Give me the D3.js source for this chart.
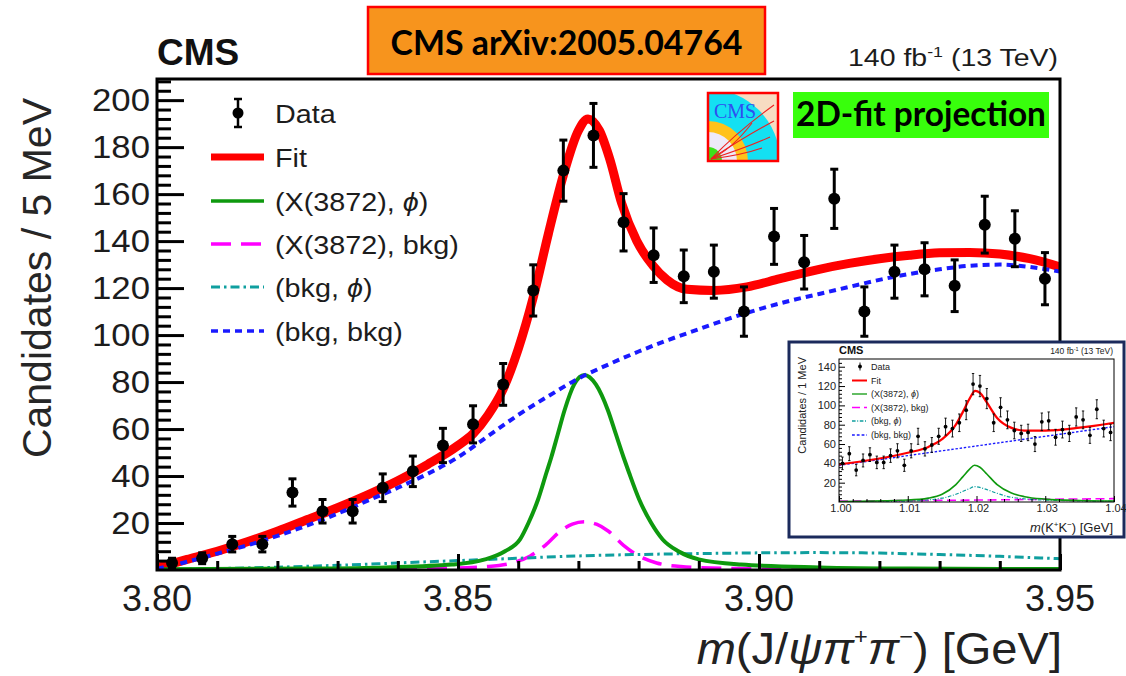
<!DOCTYPE html>
<html>
<head>
<meta charset="utf-8">
<script src="https://cdn.jsdelivr.net/npm/d3@7"></script>
<style>
  html, body { margin: 0; padding: 0; background: #ffffff; }
  svg { display: block; }
</style>
</head>
<body>
<svg id="chart" width="1126" height="676"></svg>
<script>
// ---------------- m(J/psi pi+ pi-) projection, 5 MeV bins ----------------
const massCenters = [3.8025, 3.8075, 3.8125, 3.8175, 3.8225, 3.8275, 3.8325, 3.8375, 3.8425, 3.8475,
                     3.8525, 3.8575, 3.8625, 3.8675, 3.8725, 3.8775, 3.8825, 3.8875, 3.8925, 3.8975,
                     3.9025, 3.9075, 3.9125, 3.9175, 3.9225, 3.9275, 3.9325, 3.9375, 3.9425, 3.9475];
const massCounts  = [3, 5, 11, 11, 33, 25, 25, 35, 42, 53,
                     62, 79, 119, 170, 185, 148, 134, 125, 127, 110,
                     142, 131, 158, 110, 127, 128, 121, 147, 141, 124];
const massErrors  = [2.0, 2.3, 3.3, 3.3, 5.8, 5.0, 5.0, 5.9, 6.5, 7.3,
                     7.9, 8.9, 10.9, 13.0, 13.6, 12.2, 11.6, 11.2, 11.3, 10.5,
                     11.9, 11.4, 12.6, 10.5, 11.3, 11.3, 11.0, 12.1, 11.9, 11.1];

// total fit
const fitMass  = [3.800, 3.805, 3.810, 3.815, 3.820, 3.825, 3.830, 3.835, 3.840, 3.845, 3.850, 3.8525, 3.855, 3.8575,
                  3.860, 3.8625, 3.865, 3.8675, 3.870, 3.8716, 3.8735, 3.8752, 3.8772, 3.8797, 3.8824, 3.8847, 3.888,
                  3.8925, 3.898, 3.9035, 3.910, 3.915, 3.920, 3.925, 3.930, 3.935, 3.940, 3.945, 3.950];
const fitTotal = [1, 4.5, 8, 12, 16.5, 21.5, 26.5, 32, 38, 45, 53, 58, 66, 77,
                  94, 116, 143, 168, 187, 192, 187, 175, 156, 140, 129.5, 123.5, 119.5,
                  119, 120.5, 124, 128, 130.5, 132.5, 134, 135, 135.2, 134.5, 132.5, 129];
// (X(3872), phi)
const sigPhiMass = [3.800, 3.826, 3.838, 3.849, 3.8545, 3.8578, 3.8603, 3.8617, 3.8633, 3.8647, 3.8655, 3.8666,
                    3.8677, 3.8693, 3.871, 3.8729, 3.8749, 3.8762, 3.8775, 3.8784, 3.8801, 3.8821, 3.884,
                    3.8866, 3.890, 3.897, 3.910, 3.925, 3.950];
const sigPhiVals = [0.3, 0.6, 1.1, 2.3, 4.5, 8, 13, 20, 30, 41.5, 48, 58,
                    68, 79, 83, 79, 68, 58, 48, 41.5, 30, 20, 13,
                    8, 4.5, 2.3, 1.1, 0.6, 0.4];
// (X(3872), bkg)
const sigBkgMass = [3.800, 3.831, 3.846, 3.855, 3.859, 3.862, 3.8645, 3.867, 3.869, 3.871, 3.873, 3.875,
                    3.8775, 3.880, 3.883, 3.887, 3.896, 3.911, 3.950];
const sigBkgVals = [0.1, 0.3, 0.6, 1.5, 3, 6, 10.5, 16.5, 19.5, 20.5, 19.5, 16.5,
                    10.5, 6, 3, 1.5, 0.6, 0.3, 0.1];
// (bkg, phi)
const bkgPhiMass = [3.800, 3.810, 3.820, 3.830, 3.840, 3.850, 3.860, 3.870, 3.880, 3.890, 3.900, 3.910, 3.920, 3.930, 3.940, 3.950];
const bkgPhiVals = [0.2, 0.6, 1.2, 2, 3, 4, 5, 6, 6.6, 7, 7.3, 7.4, 7.2, 6.6, 5.8, 4.8];
// (bkg, bkg)
const bkgBkgMass = [3.800, 3.805, 3.810, 3.815, 3.820, 3.825, 3.830, 3.835, 3.840, 3.845, 3.850, 3.855, 3.860, 3.865,
                    3.870, 3.875, 3.880, 3.885, 3.890, 3.895, 3.900, 3.905, 3.910, 3.915, 3.920, 3.925, 3.930, 3.935,
                    3.940, 3.945, 3.950];
const bkgBkgVals = [0.5, 3.5, 7, 10.5, 14.5, 19, 24, 29.5, 35, 41, 48, 57, 66, 74,
                    81.5, 87.5, 93, 98, 102.5, 107, 111, 114.5, 117.5, 120.5, 123.5, 126, 128, 129.5,
                    130, 129, 127];

const massTickLabels  = [3.80, 3.85, 3.90, 3.95];
const countTickLabels = [20, 40, 60, 80, 100, 120, 140, 160, 180, 200];

// ---------------- m(K+K-) projection, 1 MeV bins (inset) ----------------
const kkCenters = [1.0005, 1.0015, 1.0025, 1.0035, 1.0045, 1.0055, 1.0065, 1.0075, 1.0085, 1.0095,
                   1.0105, 1.0115, 1.0125, 1.0135, 1.0145, 1.0155, 1.0165, 1.0175, 1.0185, 1.0195,
                   1.0205, 1.0215, 1.0225, 1.0235, 1.0245, 1.0255, 1.0265, 1.0275, 1.0285, 1.0295,
                   1.0305, 1.0315, 1.0325, 1.0335, 1.0345, 1.0355, 1.0365, 1.0375, 1.0385, 1.0395];
const kkCounts  = [40, 50, 33, 43, 49, 41, 41, 48, 53, 38,
                   53, 68, 55, 59, 68, 78, 76, 82, 95, 122,
                   120, 107, 82, 98, 85, 74, 71, 72, 60, 83,
                   84, 67, 75, 71, 88, 85, 69, 96, 76, 72];
const kkErrors  = [6.5, 7.2, 5.9, 6.7, 7.1, 6.5, 6.5, 7.0, 7.3, 6.3,
                   7.3, 8.3, 7.4, 7.7, 8.3, 8.8, 8.7, 9.1, 9.8, 11.0,
                   11.0, 10.4, 9.1, 9.9, 9.2, 8.6, 8.4, 8.5, 7.8, 9.1,
                   9.2, 8.2, 8.7, 8.4, 9.4, 9.2, 8.3, 9.8, 8.7, 8.5];
const kkFitMass  = [1.000, 1.005, 1.010, 1.013, 1.015, 1.017, 1.018, 1.019, 1.0198, 1.0205, 1.0215, 1.023, 1.025, 1.027, 1.030, 1.035, 1.040];
const kkFitVals  = [39, 44, 51, 57, 65, 80, 93, 107, 115, 113, 103, 87, 77, 74, 74, 77, 82];
const kkSigPhiMass = [1.000, 1.010, 1.013, 1.015, 1.017, 1.018, 1.019, 1.0197, 1.0205, 1.0215, 1.023, 1.025, 1.027, 1.030, 1.035, 1.040];
const kkSigPhiVals = [0.5, 2, 4, 8, 18, 26, 34, 38, 36, 29, 18, 9.5, 5.5, 3, 1.5, 1];
const kkSigBkgMass = [1.000, 1.010, 1.020, 1.030, 1.040];
const kkSigBkgVals = [1, 1.5, 2, 2.8, 3.5];
const kkBkgPhiMass = [1.000, 1.010, 1.015, 1.017, 1.019, 1.0197, 1.021, 1.023, 1.025, 1.030, 1.040];
const kkBkgPhiVals = [0.3, 1, 4, 8, 14, 16, 14, 9, 5, 2, 0.8];
const kkBkgBkgMass = [1.000, 1.010, 1.020, 1.030, 1.040];
const kkBkgBkgVals = [38, 48, 58, 68, 78];
const kkTickLabels    = [1.00, 1.01, 1.02, 1.03, 1.04];
const kkCountLabels   = [20, 40, 60, 80, 100, 120, 140];

// ---------------- legend ----------------
const legendLabels = ["Data", "Fit", "(X(3872), \u03D5)", "(X(3872), bkg)", "(bkg, \u03D5)", "(bkg, bkg)"];

// ---------------- styles ----------------
const HELV = "'Liberation Sans', Arial, Helvetica, sans-serif";
const CAL  = "Lato, 'Open Sans', sans-serif";
const TXT  = "#1c1c1c";
const styles = {
  fit:    { color: "#ff0000", width: 9,   dash: null },
  sigPhi: { color: "#0e990e", width: 4,   dash: null },
  sigBkg: { color: "#ff00ff", width: 3.5, dash: "20,10" },
  bkgPhi: { color: "#0f9f9f", width: 3,   dash: "9,4,2.5,4" },
  bkgBkg: { color: "#1a1aff", width: 4,   dash: "7,5" }
};

const svg = d3.select("#chart");
const defs = svg.append("defs");

// ---------------- scales ----------------
const x = d3.scaleLinear().domain([3.80, 3.95]).range([157, 1060]);
const y = d3.scaleLinear().domain([0, 209]).range([570, 79]);

function stretchedText(parent, xp, yp, str, size, opts = {}) {
  const t = parent.append("text")
    .attr("transform", `translate(${xp},${yp}) scale(${opts.sx || 1},1)`)
    .attr("font-family", opts.family || HELV)
    .attr("font-size", size)
    .attr("font-weight", opts.weight || "normal")
    .attr("text-anchor", opts.anchor || "start")
    .attr("fill", opts.fill || TXT);
  if (str !== null) t.text(str);
  return t;
}

// ---------------- header ----------------
const titleBox = svg.append("g");
titleBox.append("rect").attr("x", 368).attr("y", 7).attr("width", 397).attr("height", 67)
  .attr("fill", "#f7941d").attr("stroke", "#ff0000").attr("stroke-width", 2.5);
const titleText = titleBox.append("text").attr("x", 566.5).attr("y", 55)
  .attr("text-anchor", "middle").attr("font-family", CAL).attr("font-weight", 700)
  .attr("font-size", 30).attr("fill", "#000").text("CMS arXiv:2005.04764");
{
  const w = titleText.node().getComputedTextLength();
  titleText.attr("font-size", 30 * 352 / w);
}

stretchedText(svg, 157, 65, "CMS", 37, { weight: "bold", fill: "#111" });

const lumi = stretchedText(svg, 0, 0, null, 24, { anchor: "end" });
lumi.append("tspan").text("140 fb");
lumi.append("tspan").attr("font-size", 15).attr("dy", -9).text("-1");
lumi.append("tspan").attr("dy", 9).text(" (13 TeV)");
{
  const w = lumi.node().getBBox().width;
  lumi.attr("transform", `translate(1058,66) scale(${210 / w},1)`);
}

// ---------------- plot area ----------------
defs.append("clipPath").attr("id", "frameClip")
  .append("rect").attr("x", 157).attr("y", 79).attr("width", 903).attr("height", 491);

const plot = svg.append("g").attr("clip-path", "url(#frameClip)");

function curve(xs, ys, sx, sy) {
  return d3.line().x(d => sx(d[0])).y(d => sy(d[1])).curve(d3.curveMonotoneX)(d3.zip(xs, ys));
}
function drawCurve(g, xs, ys, st, sx, sy, scaleW = 1) {
  g.append("path").attr("d", curve(xs, ys, sx, sy))
    .attr("fill", "none").attr("stroke", st.color).attr("stroke-width", st.width * scaleW)
    .attr("stroke-dasharray", st.dash ? st.dash.split(",").map(v => +v * scaleW).join(",") : null)
    .attr("stroke-linejoin", "round").attr("stroke-linecap", st.dash ? "butt" : "round");
}

drawCurve(plot, fitMass, fitTotal, styles.fit, x, y);
drawCurve(plot, sigBkgMass, sigBkgVals, styles.sigBkg, x, y);
drawCurve(plot, bkgPhiMass, bkgPhiVals, styles.bkgPhi, x, y);
drawCurve(plot, sigPhiMass, sigPhiVals, styles.sigPhi, x, y);
drawCurve(plot, bkgBkgMass, bkgBkgVals, styles.bkgBkg, x, y);

// data points with error bars
function drawData(g, xs, ys, es, sx, sy, r, lw, cap) {
  const pts = g.append("g");
  xs.forEach((m, i) => {
    const cx = sx(m), lo = sy(ys[i] - es[i]), hi = sy(ys[i] + es[i]);
    pts.append("line").attr("x1", cx).attr("x2", cx).attr("y1", lo).attr("y2", hi)
      .attr("stroke", "#000").attr("stroke-width", lw);
    [lo, hi].forEach(v => pts.append("line").attr("x1", cx - cap).attr("x2", cx + cap)
      .attr("y1", v).attr("y2", v).attr("stroke", "#000").attr("stroke-width", lw));
    pts.append("circle").attr("cx", cx).attr("cy", sy(ys[i])).attr("r", r).attr("fill", "#000");
  });
}
drawData(svg, massCenters, massCounts, massErrors, x, y, 6, 3, 4);

// ---------------- axes ----------------
const yMinor = d3.range(4, 209, 4).filter(v => v % 20 !== 0);
const xMinor = d3.range(3.81, 3.95, 0.01).filter(v => Math.abs(v * 20 - Math.round(v * 20)) > 1e-6);

svg.append("g").attr("transform", "translate(157,0)")
  .call(d3.axisRight(y).tickValues(countTickLabels).tickSize(27).tickFormat(""))
  .call(g => g.select(".domain").remove())
  .call(g => g.selectAll("line").attr("stroke-width", 3));
svg.append("g").attr("transform", "translate(157,0)")
  .call(d3.axisRight(y).tickValues(yMinor).tickSize(14).tickFormat(""))
  .call(g => g.select(".domain").remove())
  .call(g => g.selectAll("line").attr("stroke-width", 3));
svg.append("g").attr("transform", "translate(0,570)")
  .call(d3.axisTop(x).tickValues(massTickLabels).tickSize(16).tickFormat(""))
  .call(g => g.select(".domain").remove())
  .call(g => g.selectAll("line").attr("stroke-width", 3));
svg.append("g").attr("transform", "translate(0,570)")
  .call(d3.axisTop(x).tickValues(xMinor).tickSize(9).tickFormat(""))
  .call(g => g.select(".domain").remove())
  .call(g => g.selectAll("line").attr("stroke-width", 3));

svg.append("rect").attr("x", 157).attr("y", 79).attr("width", 903).attr("height", 491)
  .attr("fill", "none").attr("stroke", "#000").attr("stroke-width", 3);

countTickLabels.forEach(v => stretchedText(svg, 150, y(v) + 11, String(v), 30.5, { anchor: "end", sx: 1.14 }));
massTickLabels.forEach(v => stretchedText(svg, x(v), 611, v.toFixed(2), 36, { anchor: "middle" }));

svg.append("text").attr("transform", "translate(51,98) rotate(-90)")
  .attr("text-anchor", "end").attr("font-family", HELV).attr("font-size", 41).attr("fill", "#262626")
  .text("Candidates / 5 MeV");

const xTitle = stretchedText(svg, 1062, 664, null, 44, { anchor: "end", sx: 1.07, fill: "#222" });
xTitle.append("tspan").attr("font-style", "italic").text("m");
xTitle.append("tspan").text("(J/");
xTitle.append("tspan").attr("font-style", "italic").text("\u03C8\u03C0");
xTitle.append("tspan").attr("font-size", 22).attr("dy", -20).text("+");
xTitle.append("tspan").attr("font-style", "italic").attr("dy", 20).text("\u03C0");
xTitle.append("tspan").attr("font-size", 22).attr("dy", -20).text("\u2212");
xTitle.append("tspan").attr("dy", 20).text(") [GeV]");

// ---------------- legend ----------------
const legend = svg.append("g");
const legRows = [113, 157, 201, 244, 287, 331];
{
  const cx = 238, cy = legRows[0];
  legend.append("line").attr("x1", cx).attr("x2", cx).attr("y1", cy - 14).attr("y2", cy + 14).attr("stroke", "#000").attr("stroke-width", 2.5);
  [cy - 14, cy + 14].forEach(v => legend.append("line").attr("x1", cx - 4).attr("x2", cx + 4).attr("y1", v).attr("y2", v).attr("stroke", "#000").attr("stroke-width", 2.5));
  legend.append("circle").attr("cx", cx).attr("cy", cy).attr("r", 5.5).attr("fill", "#000");
}
[styles.fit, styles.sigPhi, styles.sigBkg, styles.bkgPhi, styles.bkgBkg].forEach((st, i) => {
  const yy = legRows[i + 1];
  legend.append("line").attr("x1", 211).attr("x2", 264).attr("y1", yy).attr("y2", yy)
    .attr("stroke", st.color).attr("stroke-width", i === 0 ? 7 : Math.min(st.width, 3.5))
    .attr("stroke-dasharray", st.dash);
});
legendLabels.forEach((lab, i) => {
  const t = stretchedText(legend, 275, legRows[i] + 10, null, 25, { sx: 1.15 });
  const parts = lab.split("\u03D5");
  t.append("tspan").text(parts[0]);
  if (parts.length > 1) {
    t.append("tspan").attr("font-style", "italic").text("\u03D5");
    t.append("tspan").text(parts[1]);
  }
});

// ---------------- CMS logo ----------------
{
  const lg = svg.append("g").attr("transform", "translate(708,93)");
  defs.append("clipPath").attr("id", "logoClip").append("rect").attr("width", 70).attr("height", 68);
  const c = lg.append("g").attr("clip-path", "url(#logoClip)");
  c.append("rect").attr("width", 70).attr("height", 68).attr("fill", "#f7dcc2");
  c.append("circle").attr("cx", 0).attr("cy", 68).attr("r", 72).attr("fill", "#14e0f2");
  c.append("circle").attr("cx", 0).attr("cy", 68).attr("r", 40).attr("fill", "#ffc21a");
  c.append("circle").attr("cx", 0).attr("cy", 68).attr("r", 29).attr("fill", "#eeeaf8");
  c.append("circle").attr("cx", 0).attr("cy", 68).attr("r", 14).attr("fill", "#3ee01a");
  ["M3,66 Q30,38 66,12", "M3,66 Q36,44 66,28", "M3,66 Q40,54 62,44", "M3,66 Q34,62 54,55", "M3,66 Q24,56 44,30"]
    .forEach(d => c.append("path").attr("d", d).attr("fill", "none").attr("stroke", "#ee2020").attr("stroke-width", 1.1));
  c.append("text").attr("x", 6).attr("y", 25).attr("font-family", "'Liberation Serif', 'DejaVu Serif', serif")
    .attr("font-size", 20).attr("fill", "#2f4ff0").text("CMS");
  lg.append("rect").attr("x", 0).attr("y", 0).attr("width", 70).attr("height", 68)
    .attr("fill", "none").attr("stroke", "#ff0000").attr("stroke-width", 2.5);
}

// ---------------- 2D-fit label ----------------
svg.append("rect").attr("x", 793).attr("y", 92).attr("width", 256).attr("height", 46).attr("fill", "#38ff0c");
const projText = svg.append("text").attr("x", 921).attr("y", 126).attr("text-anchor", "middle")
  .attr("font-family", CAL).attr("font-weight", 700).attr("font-size", 30).attr("fill", "#000")
  .text("2D-fit projection");
{
  const w = projText.node().getComputedTextLength();
  projText.attr("font-size", 30 * 250 / w);
}

// ---------------- inset: m(K+K-) ----------------
{
  const ix = d3.scaleLinear().domain([1.00, 1.04]).range([839, 1114]);
  const iy = d3.scaleLinear().domain([0, 148]).range([502, 359]);
  const ins = svg.append("g");
  ins.append("rect").attr("x", 789).attr("y", 342).attr("width", 335).attr("height", 195)
    .attr("fill", "#fff").attr("stroke", "#1b2a5c").attr("stroke-width", 3);

  defs.append("clipPath").attr("id", "insetClip")
    .append("rect").attr("x", 839).attr("y", 359).attr("width", 275).attr("height", 143);
  const ip = ins.append("g").attr("clip-path", "url(#insetClip)");
  drawCurve(ip, kkSigBkgMass, kkSigBkgVals, styles.sigBkg, ix, iy, 0.45);
  drawCurve(ip, kkBkgPhiMass, kkBkgPhiVals, styles.bkgPhi, ix, iy, 0.4);
  drawCurve(ip, kkSigPhiMass, kkSigPhiVals, styles.sigPhi, ix, iy, 0.4);
  drawCurve(ip, kkBkgBkgMass, kkBkgBkgVals, styles.bkgBkg, ix, iy, 0.35);
  drawCurve(ip, kkFitMass, kkFitVals, styles.fit, ix, iy, 0.25);
  drawData(ins, kkCenters, kkCounts, kkErrors, ix, iy, 1.9, 0.9, 1.2);

  const iyMinor = d3.range(4, 148, 4).filter(v => v % 20 !== 0);
  const ixMinor = d3.range(1.002, 1.04, 0.002).filter(v => Math.abs(v * 100 - Math.round(v * 100)) > 1e-6);
  ins.append("g").attr("transform", "translate(839,0)")
    .call(d3.axisRight(iy).tickValues(kkCountLabels).tickSize(6).tickFormat(""))
    .call(g => g.select(".domain").remove());
  ins.append("g").attr("transform", "translate(839,0)")
    .call(d3.axisRight(iy).tickValues(iyMinor).tickSize(3).tickFormat(""))
    .call(g => g.select(".domain").remove());
  ins.append("g").attr("transform", "translate(0,502)")
    .call(d3.axisTop(ix).tickValues(kkTickLabels).tickSize(6).tickFormat(""))
    .call(g => g.select(".domain").remove());
  ins.append("g").attr("transform", "translate(0,502)")
    .call(d3.axisTop(ix).tickValues(ixMinor).tickSize(3).tickFormat(""))
    .call(g => g.select(".domain").remove());
  ins.append("rect").attr("x", 839).attr("y", 359).attr("width", 275).attr("height", 143)
    .attr("fill", "none").attr("stroke", "#000").attr("stroke-width", 1);

  kkCountLabels.forEach(v => stretchedText(ins, 836, iy(v) + 4, String(v), 11, { anchor: "end", fill: "#222" }));
  kkTickLabels.forEach(v => stretchedText(ins, ix(v) + 2, 512, v.toFixed(2), 11, { anchor: "middle", fill: "#222" }));
  ins.append("text").attr("transform", "translate(806,357) rotate(-90)").attr("text-anchor", "end")
    .attr("font-family", HELV).attr("font-size", 11).attr("fill", "#222").text("Candidates / 1 MeV");
  stretchedText(ins, 839, 354, "CMS", 11, { weight: "bold", fill: "#111" });
  const il = stretchedText(ins, 1113, 354, null, 8.5, { anchor: "end", fill: "#222" });
  il.append("tspan").text("140 fb");
  il.append("tspan").attr("font-size", 5.5).attr("dy", -3).text("-1");
  il.append("tspan").attr("dy", 3).text(" (13 TeV)");
  const ixt = stretchedText(ins, 1113, 532, null, 13, { anchor: "end", fill: "#222" });
  ixt.append("tspan").attr("font-style", "italic").text("m");
  ixt.append("tspan").text("(K");
  ixt.append("tspan").attr("font-size", 8).attr("dy", -5).text("+");
  ixt.append("tspan").attr("dy", 5).text("K");
  ixt.append("tspan").attr("font-size", 8).attr("dy", -5).text("\u2212");
  ixt.append("tspan").attr("dy", 5).text(") [GeV]");

  // inset legend
  const iRows = [366.5, 380.5, 394, 407.5, 421, 435];
  ins.append("line").attr("x1", 860).attr("x2", 860).attr("y1", iRows[0] - 4).attr("y2", iRows[0] + 4).attr("stroke", "#000").attr("stroke-width", 0.9);
  ins.append("circle").attr("cx", 860).attr("cy", iRows[0]).attr("r", 1.9).attr("fill", "#000");
  [styles.fit, styles.sigPhi, styles.sigBkg, styles.bkgPhi, styles.bkgBkg].forEach((st, i) => {
    const yy = iRows[i + 1];
    ins.append("line").attr("x1", 852).attr("x2", 867).attr("y1", yy).attr("y2", yy)
      .attr("stroke", st.color).attr("stroke-width", i === 0 ? 2 : 1.3)
      .attr("stroke-dasharray", st.dash ? st.dash.split(",").map(v => +v * 0.4).join(",") : null);
  });
  legendLabels.forEach((lab, i) => {
    const t = stretchedText(ins, 871, iRows[i] + 3, null, 9, { fill: "#222" });
    const parts = lab.split("\u03D5");
    t.append("tspan").text(parts[0]);
    if (parts.length > 1) {
      t.append("tspan").attr("font-style", "italic").text("\u03D5");
      t.append("tspan").text(parts[1]);
    }
  });
}
</script>
</body>
</html>
